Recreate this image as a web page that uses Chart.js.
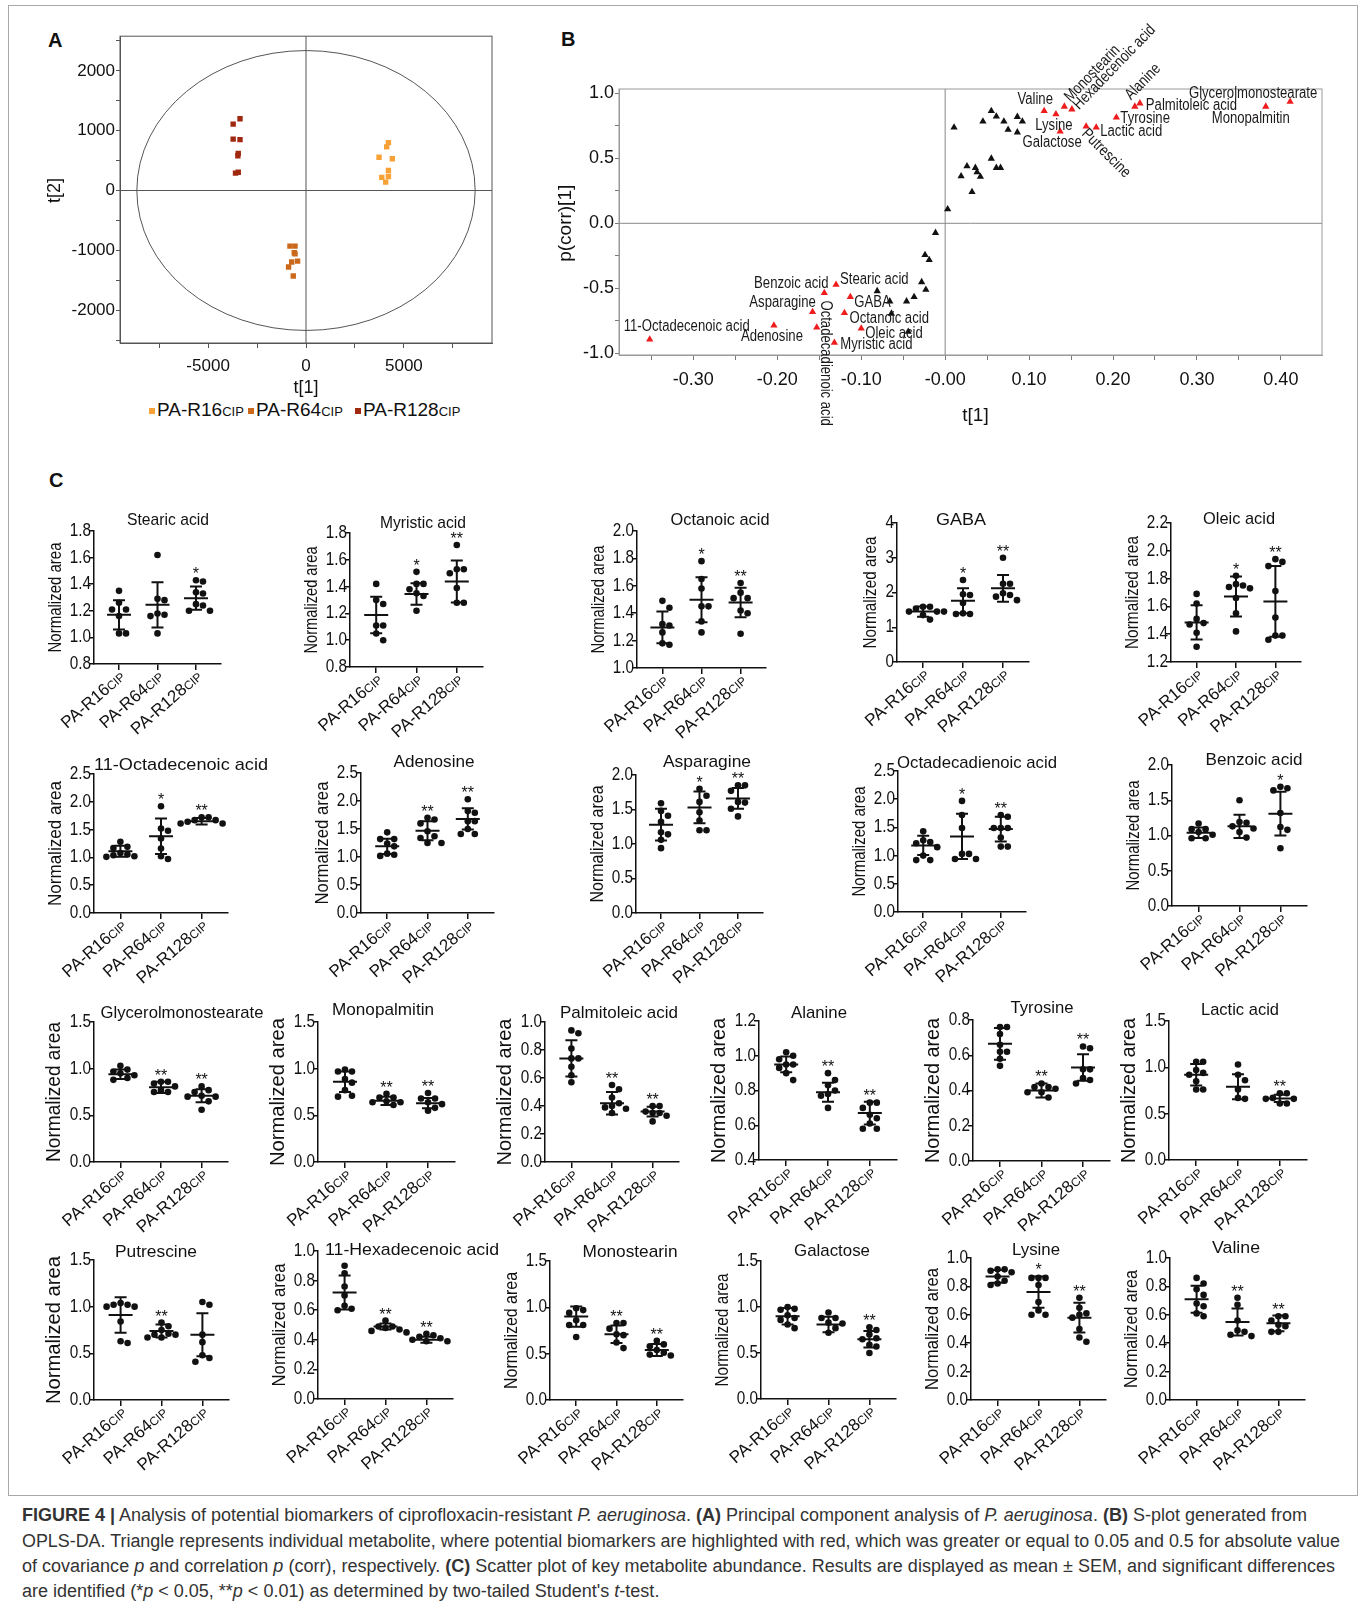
<!DOCTYPE html>
<html lang="en">
<head>
<meta charset="UTF-8">
<title>Figure 4</title>
<script src="https://cdn.jsdelivr.net/npm/chart.js@4.4.1/dist/chart.umd.min.js"></script>
<style>
  body{margin:0;width:1362px;height:1610px;background:#fff;position:relative;overflow:hidden;
       font-family:'Liberation Sans',Arial,sans-serif;color:#111}
  canvas{position:absolute}
  .frame{position:absolute;left:8px;top:5px;width:1348px;height:1489px;border:1px solid #a8a8a8}
  .panel{position:absolute;font-weight:bold;font-size:20px;line-height:22px}
  .leg{position:absolute;top:398px;font-size:19px;line-height:24px;white-space:nowrap}
  .leg small{font-size:13px}
  .leg .sq{display:inline-block;width:6px;height:6px;margin-right:2px;vertical-align:middle}
  .cap{position:absolute;left:22px;white-space:nowrap;font-size:18px;line-height:20px;color:#333;transform-origin:0 0}
</style>
</head>
<body>
<div class="frame"></div>
<div class="panel" style="left:48px;top:29px">A</div>
<div class="panel" style="left:561px;top:28px">B</div>
<div class="panel" style="left:49px;top:469px">C</div>

<div class="leg" style="left:149px"><span class="sq" style="background:#f7a136"></span>PA-R16<small>CIP</small></div>
<div class="leg" style="left:248px"><span class="sq" style="background:#cc6819"></span>PA-R64<small>CIP</small></div>
<div class="leg" style="left:355px"><span class="sq" style="background:#a0280f"></span>PA-R128<small>CIP</small></div>

<canvas id="pca" width="462" height="378" style="left:40px;top:25px"></canvas>
<canvas id="splot" width="785" height="420" style="left:549px;top:15px"></canvas>

<div class="cap" style="top:1505px"><b>FIGURE 4 |</b> Analysis of potential biomarkers of ciprofloxacin-resistant <i>P. aeruginosa</i>. <b>(A)</b> Principal component analysis of <i>P. aeruginosa</i>. <b>(B)</b> S-plot generated from</div>
<div class="cap" style="top:1531px">OPLS-DA. Triangle represents individual metabolite, where potential biomarkers are highlighted with red, which was greater or equal to 0.05 and 0.5 for absolute value</div>
<div class="cap" style="top:1556px">of covariance <i>p</i> and correlation <i>p</i> (corr), respectively. <b>(C)</b> Scatter plot of key metabolite abundance. Results are displayed as mean ± SEM, and significant differences</div>
<div class="cap" style="top:1581px">are identified (*<i>p</i> &lt; 0.05, **<i>p</i> &lt; 0.01) as determined by two-tailed Student's <i>t</i>-test.</div>

<script>
// ---------- panel A : PCA scores ----------
const r16T1 = [4210, 4120, 3730, 4410, 4210, 3870, 4210, 4070];
const r16T2 = [800, 730, 555, 530, 335, 220, 235, 140];
const r64T1 = [-820, -560, -600, -560, -730, -430, -890, -650];
const r64T2 = [-930, -930, -1040, -1060, -1195, -1180, -1280, -1430];
const r128T1 = [-3370, -3720, -3720, -3370, -3460, -3480, -3600, -3460];
const r128T2 = [1200, 1110, 860, 850, 620, 580, 290, 305];
const ellipseT1 = 8640, ellipseT2 = 2340;
const pcaTicksT1 = [-7500, -5000, -2500, 0, 2500, 5000, 7500];
const pcaTicksT2 = [-2500, -2000, -1500, -1000, -500, 0, 500, 1000, 1500, 2000, 2500];
const groupColors = ['#f7a136', '#cc6819', '#a0280f'];

// ---------- panel B : S-plot ----------
const sBlackCov = [0.0106, 0.055, 0.061, 0.045, 0.07, 0.086, 0.092, 0.075, 0.086, 0.055, 0.026, 0.036, 0.038, 0.019, 0.042,
  0.061, 0.066, 0.032, 0.003, -0.0115, -0.024, -0.019, -0.028, -0.023, -0.037, -0.046, -0.066, -0.064, -0.081, -0.044];
const sBlackCorr = [0.738, 0.865, 0.822, 0.783, 0.783, 0.819, 0.783, 0.72, 0.70, 0.498, 0.44, 0.427, 0.394, 0.363, 0.358,
  0.427, 0.427, 0.241, 0.108, -0.073, -0.243, -0.281, -0.452, -0.511, -0.567, -0.6, -0.6, -0.694, -0.521, -0.834];
const sRedNames = ['Valine', 'Monostearin', 'Hexadecenoic acid', 'Lysine', 'Galactose', 'Putrescine', 'Lactic acid', 'Tyrosine',
  'Alanine', 'Palmitoleic acid', 'Glycerolmonostearate', 'Monopalmitin', 'Stearic acid', 'Benzoic acid', 'GABA', 'Asparagine',
  'Octanoic acid', 'Octadecadienoic acid', 'Oleic acid', 'Myristic acid', 'Adenosine', '11-Octadecenoic acid'];
const sRedCov = [0.118, 0.142, 0.151, 0.132, 0.137, 0.168, 0.18, 0.204, 0.226, 0.232, 0.411, 0.382,
  -0.13, -0.144, -0.113, -0.158, -0.12, -0.153, -0.10, -0.132, -0.204, -0.352];
const sRedCorr = [0.865, 0.898, 0.877, 0.839, 0.707, 0.745, 0.738, 0.814, 0.898, 0.923, 0.936, 0.898,
  -0.472, -0.536, -0.567, -0.681, -0.689, -0.801, -0.809, -0.918, -0.786, -0.893];
// label placement: dx, dy (px from the marker), align, angle (deg)
const sLabelPos = [[-9,-11,'center',0],[3,-7,'left',-46],[4,-2,'left',-46],[-2,11,'center',0],[-8,11,'center',0],
  [-2,5,'left',45],[4,4,'left',0],[4,1,'left',0],[-7,-9,'left',-46],[6,2,'left',0],[-37,-8,'center',0],[-15,12,'center',0],
  [4,-5,'left',0],[-33,-9,'center',0],[4,6,'left',0],[-30,-9,'center',0],[5,6,'left',0],[9,-27,'left',90],[4,5,'left',0],
  [6,2,'left',0],[-2,11,'center',0],[37,-13,'center',0]];

// ---------- panel C : metabolite dot plots ----------
const groups = ['PA-R16', 'PA-R64', 'PA-R128'];
const metabolites = ['Stearic acid', 'Myristic acid', 'Octanoic acid', 'GABA', 'Oleic acid',
  '11-Octadecenoic acid', 'Adenosine', 'Asparagine', 'Octadecadienoic acid', 'Benzoic acid',
  'Glycerolmonostearate', 'Monopalmitin', 'Palmitoleic acid', 'Alanine', 'Tyrosine', 'Lactic acid',
  'Putrescine', '11-Hexadecenoic acid', 'Monostearin', 'Galactose', 'Lysine', 'Valine'];
const yAxisMin = [0.8, 0.8, 1.0, 0, 1.2, 0, 0, 0, 0, 0, 0, 0, 0, 0.4, 0, 0, 0, 0, 0, 0, 0, 0];
const yAxisMax = [1.8, 1.8, 2.0, 4, 2.2, 2.5, 2.5, 2.0, 2.5, 2.0, 1.5, 1.5, 1.0, 1.2, 0.8, 1.5, 1.5, 1.0, 1.5, 1.5, 1.0, 1.0];
const yAxisStep = [0.2, 0.2, 0.2, 1, 0.2, 0.5, 0.5, 0.5, 0.5, 0.5, 0.5, 0.5, 0.2, 0.2, 0.2, 0.5, 0.5, 0.2, 0.5, 0.5, 0.2, 0.2];

const stearicAcid = [[1.35,1.26,1.21,1.21,1.16,1.03,1.03],[1.62,1.29,1.28,1.18,1.17,1.16,1.03],[1.43,1.42,1.34,1.33,1.25,1.24,1.2,1.2]];
const myristicAcid = [[1.42,1.3,1.27,1.11,1.11,1.05,1.0],[1.51,1.42,1.42,1.38,1.35,1.33,1.22],[1.71,1.53,1.53,1.5,1.39,1.28,1.28]];
const octanoicAcid = [[1.49,1.44,1.32,1.31,1.26,1.18,1.17],[1.78,1.65,1.58,1.45,1.45,1.34,1.26],[1.62,1.55,1.51,1.51,1.42,1.4,1.25]];
const gaba = [[1.59,1.59,1.54,1.45,1.45,1.45,1.35,1.22],[2.36,1.95,1.93,1.7,1.4,1.38,1.38],[3.0,2.25,2.25,1.98,1.93,1.88,1.78]];
const oleicAcid = [[1.69,1.62,1.51,1.48,1.47,1.41,1.31],[1.82,1.76,1.75,1.74,1.73,1.66,1.55,1.42],[1.94,1.92,1.89,1.71,1.52,1.39,1.39,1.36]];
const octadecenoicAcid = [[1.28,1.19,1.17,1.08,1.05,1.04,1.02,1.01],[1.92,1.52,1.48,1.34,1.16,1.02,0.97],[1.72,1.72,1.67,1.67,1.64,1.61,1.61]];
const adenosine = [[1.44,1.32,1.32,1.24,1.19,1.06,1.04,1.02],[1.7,1.67,1.6,1.46,1.37,1.34,1.25,1.25],[2.03,1.82,1.79,1.64,1.64,1.5,1.41,1.41]];
const asparagine = [[1.59,1.48,1.41,1.32,1.17,1.14,1.06,0.94],[1.8,1.7,1.61,1.46,1.34,1.2,1.2],[1.85,1.85,1.77,1.61,1.6,1.51,1.4]];
const octadecadienoicAcid = [[1.43,1.27,1.24,1.22,1.15,1.0,0.92,0.92],[1.97,1.72,1.49,1.03,1.03,0.94,0.94],[1.72,1.69,1.49,1.49,1.49,1.32,1.16,1.16]];
const benzoicAcid = [[1.17,1.09,1.09,1.05,1.01,0.96,0.96],[1.5,1.19,1.18,1.13,1.1,1.05,0.97],[1.69,1.67,1.64,1.32,1.12,1.08,0.82]];
const glycerolmonostearate = [[1.03,0.99,0.97,0.95,0.93,0.9,0.88],[0.86,0.86,0.84,0.81,0.77,0.75,0.75],[0.81,0.77,0.75,0.71,0.7,0.7,0.65,0.56]];
const monopalmitin = [[0.99,0.97,0.97,0.89,0.85,0.77,0.71,0.7],[0.73,0.69,0.69,0.65,0.64,0.64,0.61],[0.74,0.68,0.68,0.64,0.62,0.58,0.55]];
const palmitoleicAcid = [[0.94,0.92,0.81,0.74,0.74,0.68,0.62,0.57],[0.55,0.52,0.46,0.42,0.4,0.39,0.38,0.35],[0.4,0.4,0.36,0.35,0.35,0.33,0.29]];
const alanine = [[1.02,1.0,0.98,0.95,0.95,0.93,0.9,0.86],[0.9,0.86,0.83,0.8,0.78,0.77,0.7],[0.73,0.73,0.7,0.66,0.64,0.61,0.58,0.58]];
const tyrosine = [[0.76,0.76,0.72,0.66,0.62,0.62,0.58,0.54],[0.44,0.42,0.42,0.41,0.39,0.39,0.36],[0.65,0.64,0.52,0.52,0.47,0.46,0.44]];
const lacticAcid = [[1.06,1.06,0.97,0.94,0.92,0.85,0.76,0.76],[1.03,0.92,0.86,0.76,0.67,0.66],[0.72,0.72,0.67,0.66,0.66,0.61,0.61]];
const putrescine = [[1.04,1.02,1.02,1.0,1.0,0.84,0.63,0.61],[0.83,0.79,0.75,0.71,0.7,0.7,0.67,0.67],[1.05,1.02,0.7,0.62,0.48,0.45,0.41]];
const hexadecenoicAcid = [[0.9,0.85,0.76,0.7,0.63,0.61,0.6],[0.53,0.49,0.49,0.48,0.47,0.46,0.45],[0.44,0.43,0.42,0.41,0.4,0.39,0.39]];
const monostearin = [[0.99,0.97,0.94,0.86,0.81,0.81,0.68],[0.83,0.83,0.77,0.71,0.7,0.62,0.56],[0.64,0.6,0.58,0.54,0.51,0.49,0.48]];
const galactose = [[1.0,0.98,0.97,0.91,0.88,0.86,0.81,0.77],[0.94,0.88,0.88,0.83,0.82,0.77,0.72],[0.78,0.75,0.7,0.66,0.65,0.59,0.57,0.5]];
const lysine = [[0.92,0.92,0.91,0.9,0.87,0.84,0.82,0.81],[0.86,0.86,0.86,0.81,0.69,0.63,0.6,0.6],[0.72,0.65,0.61,0.6,0.58,0.5,0.44,0.41]];
const valine = [[0.86,0.82,0.78,0.74,0.68,0.66,0.61,0.59],[0.72,0.67,0.56,0.49,0.48,0.46,0.45],[0.59,0.59,0.56,0.53,0.52,0.48,0.48]];
const samples = [stearicAcid, myristicAcid, octanoicAcid, gaba, oleicAcid, octadecenoicAcid, adenosine, asparagine,
  octadecadienoicAcid, benzoicAcid, glycerolmonostearate, monopalmitin, palmitoleicAcid, alanine, tyrosine, lacticAcid,
  putrescine, hexadecenoicAcid, monostearin, galactose, lysine, valine];

const groupMeans = [[1.17,1.245,1.295],[1.188,1.345,1.438],[1.296,1.498,1.478],[1.45,1.76,2.12],[1.485,1.672,1.636],
  [1.11,1.38,1.65],[1.19,1.47,1.68],[1.28,1.53,1.66],[1.18,1.34,1.47],[1.04,1.13,1.31],
  [0.94,0.80,0.71],[0.86,0.655,0.63],[0.74,0.42,0.36],[0.95,0.79,0.67],[0.665,0.40,0.53],[0.92,0.79,0.665],
  [0.91,0.74,0.70],[0.72,0.49,0.40],[0.90,0.71,0.54],[0.90,0.81,0.65],[0.87,0.76,0.58],[0.71,0.55,0.54]];
const groupErrs = [[0.11,0.17,0.088],[0.137,0.08,0.157],[0.116,0.164,0.108],[0.145,0.36,0.385],[0.124,0.144,0.254],
  [0.1,0.32,0.06],[0.135,0.17,0.19],[0.23,0.23,0.15],[0.17,0.4,0.22],[0.075,0.165,0.31],
  [0.05,0.06,0.07],[0.11,0.045,0.055],[0.13,0.08,0.035],[0.045,0.055,0.065],[0.09,0.04,0.075],[0.115,0.135,0.04],
  [0.19,0.07,0.23],[0.115,0.02,0.02],[0.11,0.095,0.065],[0.09,0.085,0.09],[0.045,0.11,0.105],[0.095,0.095,0.055]];
const stars = [['','','*'],['','*','**'],['','*','**'],['','*','**'],['','*','**'],
  ['','*','**'],['','**','**'],['','*','**'],['','*','**'],['','','*'],
  ['','**','**'],['','**','**'],['','**','**'],['','**','**'],['','**','**'],['','','**'],
  ['','**',''],['','**','**'],['','**','**'],['','','**'],['','*','**'],['','**','**']];

// page layout per plot: axis x, top y, bottom y, right x, title cx, title cy, title length, y-title length, y-title size
const panelLayout = [
  [94,531,664,221,168,520,82,110,18],[350,533,667,483,423,523,86,107,18],[637,531,668,766,720,520,99,108,18],
  [897,523,662,1029,961,520,50,112,18],[1171,523,662,1301,1239,519,72,113,18],
  [94,774,913,228,181,765,174,125,18],[361,773,913,494,434,762,81,123,18],[636,775,913,763,707,762,88,117,18],
  [898,771,912,1026,977,763,160,110,18],[1172,765,906,1307,1254,760,97,110,18],
  [94,1022,1162,228,182,1013,163,140,21],[318,1022,1162,455,383,1010,102,148,21],[545,1022,1162,679,619,1013,118,147,21],
  [759,1021,1160,897,819,1013,56,145,21],[973,1020,1161,1110,1042,1008,63,145,21],[1169,1021,1160,1307,1240,1010,78,145,21],
  [94,1260,1400,229,156,1252,82,148,21],[318,1251,1399,453,412,1250,174,123,18],[550,1261,1400,683,630,1252,95,117,18],
  [761,1261,1399,896,832,1251,76,113,18],[971,1258,1400,1106,1036,1250,48,122,18],[1170,1258,1400,1305,1236,1248,48,118,18]];

const FONT = "'Liberation Sans', Arial, sans-serif";
Chart.defaults.font.family = FONT;
Chart.defaults.color = '#111';

function drawText(ctx, txt, x, y, o) {
  ctx.save();
  ctx.translate(x, y);
  if (o.angle) ctx.rotate(o.angle);
  ctx.scale(o.sx || 1, 1);
  ctx.font = (o.weight || 'normal') + ' ' + o.size + 'px ' + FONT;
  ctx.textAlign = o.align || 'left';
  ctx.textBaseline = o.baseline || 'middle';
  ctx.fillStyle = o.color || '#111';
  ctx.fillText(txt, 0, 0);
  ctx.restore();
}
function textWidth(ctx, txt, size) {
  ctx.save(); ctx.font = size + 'px ' + FONT;
  const w = ctx.measureText(txt).width; ctx.restore(); return w;
}
const pts = (xs, ys) => xs.map((v, i) => ({x: v, y: ys[i]}));
const baseOpts = {responsive: false, animation: false, devicePixelRatio: 1,
  plugins: {legend: {display: false}, tooltip: {enabled: false}}};

// ---------- A ----------
new Chart(document.getElementById('pca'), {
  type: 'scatter',
  data: {datasets: [
    {data: pts(r16T1, r16T2), backgroundColor: groupColors[0]},
    {data: pts(r64T1, r64T2), backgroundColor: groupColors[1]},
    {data: pts(r128T1, r128T2), backgroundColor: groupColors[2]}]},
  options: Object.assign({}, baseOpts, {
    layout: {padding: {top: 10, right: 10, left: 0, bottom: 0}, autoPadding: false},
    elements: {point: {pointStyle: 'rect', radius: 3.8, borderWidth: 0}},
    scales: {
      x: {min: -9500, max: 9500, afterFit: s => { s.height = 60; },
        afterBuildTicks: s => { s.ticks = pcaTicksT1.map(v => ({value: v})); },
        ticks: {padding: 8, maxRotation: 0, autoSkip: false, font: {size: 17},
          callback: v => (Math.abs(v) % 5000 === 0 ? String(v) : '')},
        grid: {drawOnChartArea: false, tickLength: 5, color: '#555'}, border: {color: '#555'}},
      y: {min: -2550, max: 2580, afterFit: s => { s.width = 80; },
        afterBuildTicks: s => { s.ticks = pcaTicksT2.map(v => ({value: v})); },
        ticks: {padding: 1, autoSkip: false, font: {size: 17},
          callback: v => (Math.abs(v) % 1000 === 0 ? String(v) : '')},
        grid: {drawOnChartArea: false, tickLength: 4, color: '#555'}, border: {color: '#555'}}
    }}),
  plugins: [{
    id: 'pcaDecor',
    beforeDatasetsDraw(chart) {
      const {ctx, chartArea: ca, scales: {x, y}} = chart;
      const x0 = x.getPixelForValue(0), y0 = y.getPixelForValue(0);
      ctx.save();
      ctx.strokeStyle = '#555'; ctx.lineWidth = 1;
      ctx.strokeRect(ca.left, ca.top, ca.right - ca.left, ca.bottom - ca.top);
      ctx.beginPath();
      ctx.moveTo(x0, ca.top); ctx.lineTo(x0, ca.bottom);
      ctx.moveTo(ca.left, y0); ctx.lineTo(ca.right, y0);
      ctx.stroke();
      ctx.beginPath();
      ctx.ellipse(x0, y0, x.getPixelForValue(ellipseT1) - x0, y0 - y.getPixelForValue(ellipseT2), 0, 0, Math.PI * 2);
      ctx.stroke();
      ctx.restore();
    },
    afterDraw(chart) {
      const {ctx, chartArea: ca, scales: {x, y}} = chart;
      drawText(ctx, 't[1]', x.getPixelForValue(0), ca.bottom + 45, {size: 18, align: 'center'});
      drawText(ctx, 't[2]', ca.left - 65, y.getPixelForValue(0), {size: 18, align: 'center', angle: -Math.PI / 2});
    }
  }]
});

// ---------- B ----------
new Chart(document.getElementById('splot'), {
  type: 'scatter',
  data: {datasets: [
    {data: pts(sBlackCov, sBlackCorr), backgroundColor: '#111'},
    {data: pts(sRedCov, sRedCorr), backgroundColor: '#ee1c1c'}]},
  options: Object.assign({}, baseOpts, {
    layout: {padding: {top: 74, right: 12, left: 0, bottom: 0}, autoPadding: false},
    elements: {point: {pointStyle: 'triangle', radius: 4.2, borderWidth: 0}},
    scales: {
      x: {min: -0.3886, max: 0.449, afterFit: s => { s.height = 80; },
        ticks: {stepSize: 0.05, includeBounds: false, padding: 9, maxRotation: 0, autoSkip: false, font: {size: 18},
          callback: v => { const k = Math.round(v * 20); return k % 2 ? '' : (k === 0 ? '-0.00' : (k / 20).toFixed(2)); }},
        grid: {drawOnChartArea: false, tickLength: 5, color: '#777'}, border: {color: '#999'}},
      y: {min: -1.013, max: 1.033, afterFit: s => { s.width = 70; },
        ticks: {stepSize: 0.25, includeBounds: false, padding: 1, autoSkip: false, font: {size: 18},
          callback: v => { const k = Math.round(v * 4); return k % 2 ? '' : (k / 4).toFixed(1); }},
        grid: {drawOnChartArea: false, tickLength: 4, color: '#777'}, border: {color: '#999'}}
    }}),
  plugins: [{
    id: 'sDecor',
    beforeDatasetsDraw(chart) {
      const {ctx, chartArea: ca, scales: {x, y}} = chart;
      const x0 = x.getPixelForValue(0), y0 = y.getPixelForValue(0);
      ctx.save();
      ctx.strokeStyle = '#999'; ctx.lineWidth = 1;
      ctx.strokeRect(ca.left, ca.top, ca.right - ca.left, ca.bottom - ca.top);
      ctx.strokeStyle = '#888';
      ctx.beginPath();
      ctx.moveTo(x0, ca.top); ctx.lineTo(x0, ca.bottom);
      ctx.moveTo(ca.left, y0); ctx.lineTo(ca.right, y0);
      ctx.stroke();
      ctx.restore();
    },
    afterDraw(chart) {
      const {ctx, chartArea: ca, scales: {x, y}} = chart;
      sRedNames.forEach((name, i) => {
        const [dx, dy, align, ang] = sLabelPos[i];
        drawText(ctx, name, x.getPixelForValue(sRedCov[i]) + dx, y.getPixelForValue(sRedCorr[i]) + dy,
          {size: 16, sx: 0.82, align, angle: ang * Math.PI / 180, color: '#1a1a1a'});
      });
      drawText(ctx, 't[1]', (ca.left + ca.right) / 2 + 5, ca.bottom + 61, {size: 19, align: 'center'});
      drawText(ctx, 'p(corr)[1]', ca.left - 53, y.getPixelForValue(0), {size: 19, align: 'center', angle: -Math.PI / 2});
    }
  }]
});

// ---------- C ----------
const X_MIN = 0.35, X_MAX = 3.65;
const PAD_L = 90, PAD_T = 45, PAD_R = 70, PAD_B = 100;
const LABEL_ANGLE = -41 * Math.PI / 180;

function swarm(vals, g, pxX, pxY) {
  const D = 7;
  const order = vals.map((v, k) => k).sort((a, b) => vals[b] - vals[a]);
  const placed = [], xs = [];
  order.forEach(k => {
    const yp = vals[k] * pxY;
    for (let s = 0; s < 30; s++) {
      const off = s === 0 ? 0 : (s % 2 ? 1 : -1) * Math.ceil(s / 2) * D;
      if (placed.every(p => Math.hypot(p.x - off, p.y - yp) >= D)) {
        placed.push({x: off, y: yp}); xs[k] = g + off / pxX; break;
      }
    }
  });
  return xs;
}

function dotPlot(i) {
  const [ax, top, bot, right, tx, ty, tlen, ylen, ysz] = panelLayout[i];
  const cv = document.createElement('canvas');
  cv.width = right - ax + PAD_L + PAD_R;
  cv.height = bot - top + PAD_T + PAD_B;
  cv.style.left = (ax - PAD_L) + 'px';
  cv.style.top = (top - PAD_T) + 'px';
  document.body.appendChild(cv);
  const lo = yAxisMin[i], hi = yAxisMax[i], step = yAxisStep[i];
  const pxY = (bot - top) / (hi - lo), pxX = (right - ax) / (X_MAX - X_MIN);
  const decimals = step < 1 ? 1 : 0;
  const datasets = samples[i].map((vals, g) => {
    const xs = swarm(vals, g + 1, pxX, pxY);
    return {data: vals.map((v, k) => ({x: xs[k], y: v})), backgroundColor: '#111', clip: false};
  });
  new Chart(cv, {
    type: 'scatter',
    data: {datasets},
    options: Object.assign({}, baseOpts, {
      layout: {padding: {top: PAD_T, right: PAD_R, left: 0, bottom: 0}, autoPadding: false},
      elements: {point: {radius: 3.3, borderWidth: 0}},
      scales: {
        x: {type: 'linear', min: X_MIN, max: X_MAX, afterFit: s => { s.height = PAD_B; },
          afterBuildTicks: s => { s.ticks = [1, 2, 3].map(v => ({value: v})); },
          ticks: {display: false},
          grid: {drawOnChartArea: false, tickLength: 6, color: '#111', lineWidth: 1.5},
          border: {color: '#111', width: 1.5}},
        y: {min: lo, max: hi, afterFit: s => { s.width = PAD_L; },
          ticks: {display: false, stepSize: step},
          grid: {drawOnChartArea: false, tickLength: 5, color: '#111', lineWidth: 1.5},
          border: {color: '#111', width: 1.5}}
      }}),
    plugins: [{
      id: 'dotDecor' + i,
      afterDraw(chart) {
        const {ctx, chartArea: ca, scales: {x, y}} = chart;
        // mean and error bars, significance
        ctx.save();
        ctx.strokeStyle = '#111'; ctx.lineWidth = 2;
        groupMeans[i].forEach((m, g) => {
          const e = groupErrs[i][g], cx = x.getPixelForValue(g + 1);
          const pm = y.getPixelForValue(m), pt = y.getPixelForValue(m + e), pb = y.getPixelForValue(m - e);
          ctx.beginPath();
          ctx.moveTo(cx - 12, pm); ctx.lineTo(cx + 12, pm);
          ctx.moveTo(cx, pt); ctx.lineTo(cx, pb);
          ctx.moveTo(cx - 6, pt); ctx.lineTo(cx + 6, pt);
          ctx.moveTo(cx - 6, pb); ctx.lineTo(cx + 6, pb);
          ctx.stroke();
          if (stars[i][g]) {
            const topVal = Math.max(m + e, ...samples[i][g]);
            drawText(ctx, stars[i][g], cx, y.getPixelForValue(topVal) - 1, {size: 16, align: 'center', baseline: 'alphabetic'});
          }
        });
        ctx.restore();
        // y tick labels
        let maxW = 0;
        y.ticks.forEach(t => {
          const s = t.value.toFixed(decimals);
          maxW = Math.max(maxW, textWidth(ctx, s, 18) * 0.85);
          drawText(ctx, s, ca.left - 3, y.getPixelForValue(t.value), {size: 18, sx: 0.85, align: 'right'});
        });
        // y title
        const yt = 'Normalized area';
        drawText(ctx, yt, ca.left - 3 - maxW - ysz * 0.45 - 6, (ca.top + ca.bottom) / 2,
          {size: ysz, sx: ylen / textWidth(ctx, yt, ysz), align: 'center', angle: -Math.PI / 2});
        // plot title
        const ox = ax - PAD_L, oy = top - PAD_T;
        drawText(ctx, metabolites[i], tx - ox, ty - oy,
          {size: 17, sx: tlen / textWidth(ctx, metabolites[i], 17), align: 'center'});
        // rotated group labels
        groups.forEach((gname, g) => {
          const cx = x.getPixelForValue(g + 1);
          ctx.save();
          ctx.translate(cx + 7, ca.bottom + 14);
          ctx.rotate(LABEL_ANGLE);
          ctx.fillStyle = '#111';
          ctx.textBaseline = 'alphabetic';
          ctx.textAlign = 'right';
          ctx.font = '12px ' + FONT;
          ctx.fillText('CIP', 0, 0);
          const w = ctx.measureText('CIP').width;
          ctx.font = '17px ' + FONT;
          ctx.fillText(gname, -w, 0);
          ctx.restore();
        });
      }
    }]
  });
}
metabolites.forEach((m, i) => dotPlot(i));

// caption lines fitted to the column width
const capWidths = [1285, 1318, 1313];
const caps = document.querySelectorAll('.cap');
let lastScale = 1;
caps.forEach((el, k) => {
  const w = el.getBoundingClientRect().width;
  lastScale = k < capWidths.length ? capWidths[k] / w : lastScale;
  el.style.transform = 'scaleX(' + lastScale + ')';
});
</script>
</body>
</html>
